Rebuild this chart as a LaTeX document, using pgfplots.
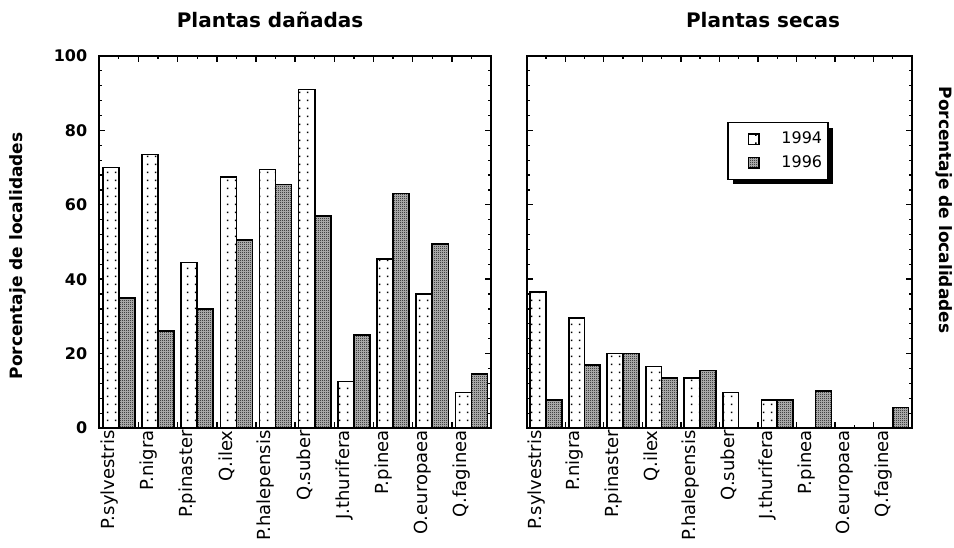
\documentclass[border=0pt]{standalone}
\usepackage{fontspec}
\setmainfont{DejaVu Sans}
\usepackage{pgfplots}
\pgfplotsset{compat=1.18}
\usetikzlibrary{patterns,shadows}

\makeatletter
\tikzset{no preactions/.code={\let\tikz@preactions\pgfutil@empty}}
\makeatother

\pgfdeclarepatternformonly{sparsedots}{\pgfqpoint{0pt}{0pt}}{\pgfqpoint{4pt}{3.85pt}}{\pgfqpoint{4pt}{3.85pt}}{%
  \pgfpathrectangle{\pgfqpoint{1.6pt}{1.5pt}}{\pgfqpoint{0.8pt}{0.8pt}}\pgfusepath{fill}}
\pgfdeclarepatternformonly{checker}{\pgfqpoint{0pt}{0pt}}{\pgfqpoint{1pt}{1pt}}{\pgfqpoint{1pt}{1pt}}{%
  \pgfpathrectangle{\pgfqpoint{0pt}{0pt}}{\pgfqpoint{0.5pt}{0.5pt}}%
  \pgfpathrectangle{\pgfqpoint{0.5pt}{0.5pt}}{\pgfqpoint{0.5pt}{0.5pt}}\pgfusepath{fill}}

\pgfplotstableread{
x  a1994 a1996
0  70    35
1  73.5  26
2  44.5  32
3  67.5  50.5
4  69.5  65.5
5  91    57
6  12.5  25
7  45.5  63
8  36    49.5
9  9.5   14.5
}\danadas
\pgfplotstableread{
x  a1994 a1996
0  36.5  7.5
1  29.5  17
2  20    20
3  16.5  13.5
4  13.5  15.5
5  9.5   0
6  7.5   7.5
7  0     10
8  0     0
9  0     5.5
}\secas

\pgfplotsset{
  panel/.style={
    scale only axis, height=186pt,
    xmin=-0.5, xmax=9.5, ymin=0, ymax=100,
    ybar, bar width=0.41,
    axis line style={line width=1pt},
    tick align=inside,
    xtick={-0.5,0.5,...,9.5}, xticklabels={},
    minor xtick={0,1,...,9},
    ytick={0,20,...,100}, minor y tick num=4,
    major tick length=3pt, minor tick length=1.5pt,
    every tick/.style={black, line width=0.7pt},
    every minor tick/.style={black, line width=0.6pt},
    extra x ticks={-0.25,0.75,1.75,2.75,3.75,4.75,5.75,6.75,7.75,8.75},
    extra x tick labels={P.sylvestris,P.nigra,P.pinaster,Q.ilex,P.halepensis,Q.suber,J.thurifera,P.pinea,O.europaea,Q.faginea},
    extra x tick style={major tick length=0pt,
      tick label style={rotate=90, anchor=east, inner sep=1pt, font=\fontsize{9}{10}\selectfont}},
    yticklabel style={font=\bfseries\fontsize{8}{9}\selectfont, xshift=-2.5pt},
    /pgf/number format/assume math mode=true,
  },
  y94/.style={fill=white, draw=black, line width=0.8pt, bar shift=-0.205,
    postaction={pattern=sparsedots},
    legend image code/.code={\path (-9pt,0pt) (14pt,0pt);\draw[no preactions, ##1, line width=0.7pt, bar shift=0pt] (0pt,-2.6pt) rectangle (5.2pt,2.6pt);}},
  y96/.style={fill=black!25, draw=black, line width=0.8pt, bar shift=0.205,
    postaction={pattern=checker},
    legend image code/.code={\path (-9pt,0pt) (14pt,0pt);\draw[no preactions, ##1, line width=0.7pt, bar shift=0pt] (0pt,-2.6pt) rectangle (5.2pt,2.6pt);}},
}

\begin{document}
\begin{tikzpicture}
\useasboundingbox (0,0) rectangle (477pt,273.5pt);

\begin{axis}[panel, at={(49.65pt,59.5pt)}, anchor=south west, width=195.85pt]
\addplot[y94] table[x=x, y=a1994] {\danadas};
\addplot[y96] table[x=x, y=a1996] {\danadas};
\end{axis}

\begin{axis}[panel, at={(263.35pt,59.5pt)}, anchor=south west, width=192.65pt,
  yticklabels={},
  legend style={at={(0.52,0.823)}, anchor=north west, draw=black, line width=0.8pt,
    fill=white, font=\fontsize{8}{9}\selectfont, row sep=0.5pt,
    inner xsep=1pt, inner ysep=2.5pt,
    drop shadow={shadow xshift=2.5pt, shadow yshift=-2.5pt, fill=black, opacity=1}},
  legend cell align=left]
\addplot[y94] table[x=x, y=a1994] {\secas};
\addlegendentry{1994}
\addplot[y96] table[x=x, y=a1996] {\secas};
\addlegendentry{1996}
\end{axis}

\node[font=\bfseries\fontsize{10}{12}\selectfont] at (135pt,263.5pt) {Plantas dañadas};
\node[font=\bfseries\fontsize{10}{12}\selectfont] at (381.5pt,263.5pt) {Plantas secas};
\node[rotate=90, font=\bfseries\fontsize{8.5}{10}\selectfont] at (8.75pt,145.5pt) {Porcentaje de localidades};
\node[rotate=-90, font=\bfseries\fontsize{8.5}{10}\selectfont] at (472pt,168.5pt) {Porcentaje de localidades};
\end{tikzpicture}
\end{document}
